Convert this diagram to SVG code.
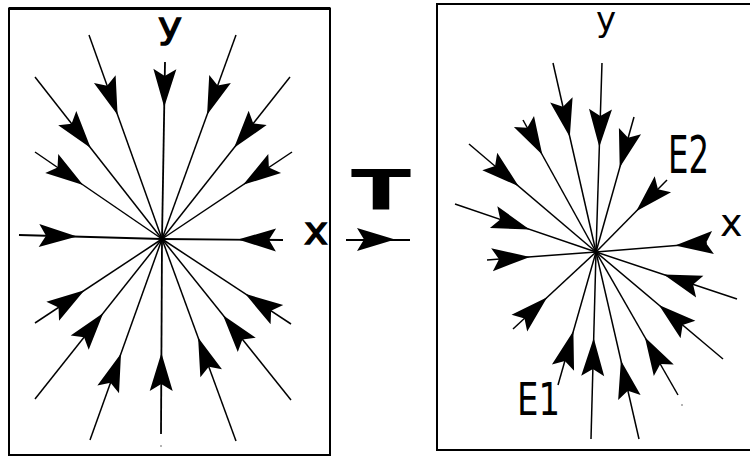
<svg xmlns="http://www.w3.org/2000/svg" width="750" height="457" viewBox="0 0 750 457">
<style>
.frame{fill:none;stroke:#000;stroke-width:2}
.ray{stroke:#000;stroke-width:1.5;fill:none}
.ax{stroke:#000;stroke-width:1.8;fill:none}
.lblB{font-family:"DejaVu Sans",Verdana,sans-serif;fill:#000;stroke:#000;stroke-width:1.3}
.lblT{font-family:"DejaVu Sans",Verdana,sans-serif;font-weight:bold;fill:#000}
.lbl{font-family:"DejaVu Sans",Verdana,sans-serif;fill:#000}
</style>
<defs>
<path id="ah" d="M0,0 L-38,-11.5 L-31,0 L-38,11.5 Z" fill="#000"/>
</defs>
<rect x="0" y="0" width="750" height="457" fill="#fff"/>

<g id="left-panel">
<rect class="frame" x="9" y="8.5" width="321" height="446.5"/>
<line x1="9" y1="8.5" x2="330" y2="8.5" stroke="#000" stroke-width="3"/>
<text class="lblB" x="158" y="38" font-size="36" textLength="24" lengthAdjust="spacingAndGlyphs">y</text>
<text class="lblB" x="304" y="244" font-size="38" textLength="24" lengthAdjust="spacingAndGlyphs">x</text>
<circle cx="161" cy="446" r="0.8" fill="#555"/>
</g>

<g id="transform">
<text class="lblT" x="351" y="209" font-size="56" textLength="60" lengthAdjust="spacingAndGlyphs">T</text>
</g>

<g id="right-panel">
<rect class="frame" x="437" y="4" width="330" height="446"/>
<text class="lbl" x="596" y="31" font-size="34">y</text>
<text class="lbl" x="720" y="236" font-size="38">x</text>
<text class="lbl" x="668" y="173" font-size="52" textLength="41" lengthAdjust="spacingAndGlyphs">E2</text>
<text class="lbl" x="517" y="415" font-size="44" textLength="43" lengthAdjust="spacingAndGlyphs">E1</text>
<circle cx="682" cy="405" r="0.8" fill="#555"/>
</g>

<g id="connectors">
<!-- left star, center (162,239) -->
<line class="ray" x1="89" y1="35" x2="162" y2="239"/>
<line class="ax" x1="165" y1="62" x2="162" y2="239"/>
<line class="ray" x1="236" y1="35" x2="162" y2="239"/>
<line class="ray" x1="35" y1="77" x2="162" y2="239"/>
<line class="ray" x1="290" y1="77" x2="162" y2="239"/>
<line class="ray" x1="35" y1="152" x2="162" y2="239"/>
<line class="ray" x1="292" y1="152" x2="162" y2="239"/>
<line class="ax" x1="19" y1="235" x2="162" y2="239"/>
<line class="ax" x1="283" y1="240" x2="162" y2="239"/>
<line class="ray" x1="35" y1="323" x2="162" y2="239"/>
<line class="ray" x1="291" y1="324" x2="162" y2="239"/>
<line class="ray" x1="35" y1="399" x2="162" y2="239"/>
<line class="ray" x1="291" y1="400" x2="162" y2="239"/>
<line class="ray" x1="90" y1="440" x2="162" y2="239"/>
<line class="ax" x1="161" y1="434" x2="162" y2="239"/>
<line class="ray" x1="236" y1="441" x2="162" y2="239"/>
<use href="#ah" transform="translate(117.6,115) rotate(70.3)"/>
<use href="#ah" transform="translate(164.2,107) rotate(91)"/>
<use href="#ah" transform="translate(207.1,114.7) rotate(109.9)"/>
<use href="#ah" transform="translate(90.7,148.1) rotate(51.9)"/>
<use href="#ah" transform="translate(234.1,147.8) rotate(128.3)"/>
<use href="#ah" transform="translate(83.1,185) rotate(34.4)"/>
<use href="#ah" transform="translate(243.1,184.7) rotate(146.2)"/>
<use href="#ah" transform="translate(77,236.6) rotate(1.6)"/>
<use href="#ah" transform="translate(238,239.6) rotate(180.5)"/>
<use href="#ah" transform="translate(84.4,290.3) rotate(-33.5)"/>
<use href="#ah" transform="translate(245.2,293.8) rotate(-146.6)"/>
<use href="#ah" transform="translate(103.3,312.9) rotate(-51.6)"/>
<use href="#ah" transform="translate(223,315.2) rotate(-128.7)"/>
<use href="#ah" transform="translate(121,353.6) rotate(-70.3)"/>
<use href="#ah" transform="translate(161.4,353) rotate(-89.7)"/>
<use href="#ah" transform="translate(198.1,337.6) rotate(-110.1)"/>

<!-- T arrow -->
<line class="ax" x1="346" y1="240" x2="410" y2="240"/>
<use href="#ah" transform="translate(395,239.5) rotate(0)"/>

<!-- right star, center (596,252) -->
<line class="ray" x1="602" y1="63" x2="596" y2="252"/>
<line class="ray" x1="553" y1="63" x2="596" y2="252"/>
<line class="ray" x1="523" y1="120" x2="596" y2="252"/>
<line class="ray" x1="469" y1="144" x2="596" y2="252"/>
<line class="ray" x1="455" y1="204" x2="596" y2="252"/>
<line class="ray" x1="634" y1="117" x2="596" y2="252"/>
<line class="ray" x1="667" y1="180" x2="596" y2="252"/>
<line class="ray" x1="707" y1="243" x2="596" y2="252"/>
<line class="ray" x1="487" y1="260" x2="596" y2="252"/>
<line class="ray" x1="513" y1="329" x2="596" y2="252"/>
<line class="ray" x1="558" y1="385" x2="596" y2="252"/>
<line class="ray" x1="591" y1="439" x2="596" y2="252"/>
<line class="ray" x1="639" y1="439" x2="596" y2="252"/>
<line class="ray" x1="678" y1="395" x2="596" y2="252"/>
<line class="ray" x1="723" y1="359" x2="596" y2="252"/>
<line class="ray" x1="737" y1="299" x2="596" y2="252"/>
<use href="#ah" transform="translate(599.3,147) rotate(91.8)"/>
<use href="#ah" transform="translate(569.8,136.9) rotate(77.2)"/>
<use href="#ah" transform="translate(542.3,154.8) rotate(61.1)"/>
<use href="#ah" transform="translate(518.7,186.2) rotate(40.4)"/>
<use href="#ah" transform="translate(529.6,229.4) rotate(18.8)"/>
<use href="#ah" transform="translate(619.7,167.6) rotate(105.7)"/>
<use href="#ah" transform="translate(636.2,211.3) rotate(134.6)"/>
<use href="#ah" transform="translate(675.1,245.6) rotate(175.4)"/>
<use href="#ah" transform="translate(529.9,256.9) rotate(-4.2)"/>
<use href="#ah" transform="translate(547.2,297.3) rotate(-42.9)"/>
<use href="#ah" transform="translate(573.4,331.1) rotate(-74.1)"/>
<use href="#ah" transform="translate(593.7,338) rotate(-88.5)"/>
<use href="#ah" transform="translate(620.9,360.5) rotate(-102.9)"/>
<use href="#ah" transform="translate(644.9,337.2) rotate(-119.8)"/>
<use href="#ah" transform="translate(658.9,305) rotate(-139.9)"/>
<use href="#ah" transform="translate(663.7,274.6) rotate(-161.6)"/>
</g>
</svg>
